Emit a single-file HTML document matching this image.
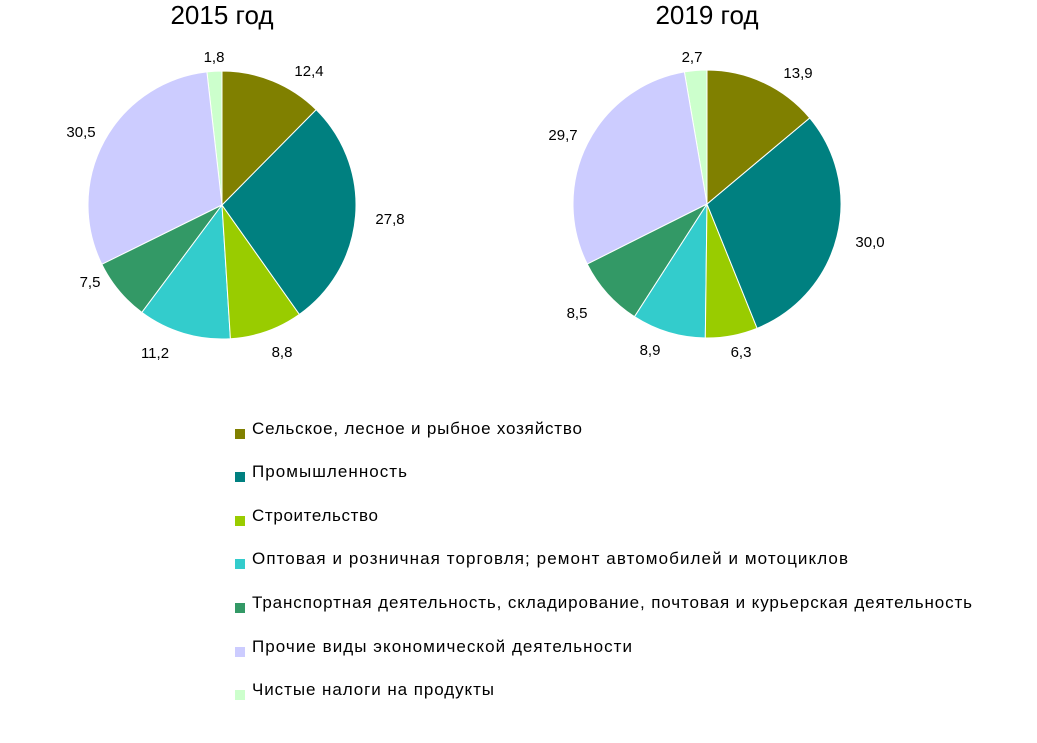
<!DOCTYPE html>
<html><head><meta charset="utf-8"><style>
html,body{margin:0;padding:0;background:#fff;}
svg{display:block;font-family:"Liberation Sans","DejaVu Sans",sans-serif;}
</style></head><body>
<svg id="s" width="1037" height="743" viewBox="0 0 1037 743" xmlns="http://www.w3.org/2000/svg">
<text x="222" y="24" font-size="26" text-anchor="middle">2015 год</text>
<text x="707" y="24" font-size="26" text-anchor="middle">2019 год</text>
<g font-size="15" fill="#000">
<text x="214" y="62" text-anchor="middle">1,8</text>
<text x="309" y="76" text-anchor="middle">12,4</text>
<text x="81" y="137" text-anchor="middle">30,5</text>
<text x="390" y="224" text-anchor="middle">27,8</text>
<text x="90" y="287" text-anchor="middle">7,5</text>
<text x="155" y="358" text-anchor="middle">11,2</text>
<text x="282" y="357" text-anchor="middle">8,8</text>
<text x="692" y="62" text-anchor="middle">2,7</text>
<text x="798" y="78" text-anchor="middle">13,9</text>
<text x="563" y="140" text-anchor="middle">29,7</text>
<text x="870" y="247" text-anchor="middle">30,0</text>
<text x="577" y="318" text-anchor="middle">8,5</text>
<text x="650" y="355" text-anchor="middle">8,9</text>
<text x="741" y="357" text-anchor="middle">6,3</text>
</g>
<g id="leg" font-size="17"></g>
</svg>
<script>
var cols=["#808000","#008080","#99CC00","#33CCCC","#339966","#CCCCFF","#CCFFCC"];
var names=["Сельское, лесное и рыбное хозяйство","Промышленность","Строительство","Оптовая и розничная торговля; ремонт автомобилей и мотоциклов","Транспортная деятельность, складирование, почтовая и курьерская деятельность","Прочие виды экономической деятельности","Чистые налоги на продукты"];
var ends=[582,407,378,848,972,632,494];
var s=document.getElementById("s"),ns="http://www.w3.org/2000/svg";
function pie(cx,cy,r,v){var a=0,t=v.reduce(function(x,y){return x+y},0);
v.forEach(function(d,i){var a2=a+d/t*2*Math.PI;
var x1=cx+r*Math.sin(a),y1=cy-r*Math.cos(a),x2=cx+r*Math.sin(a2),y2=cy-r*Math.cos(a2);
var p=document.createElementNS(ns,"path");
p.setAttribute("d","M"+cx+","+cy+"L"+x1+","+y1+"A"+r+","+r+" 0 "+(a2-a>Math.PI?1:0)+" 1 "+x2+","+y2+"Z");
p.setAttribute("fill",cols[i]);p.setAttribute("stroke","#fff");p.setAttribute("stroke-width","1");
s.insertBefore(p,s.firstChild);a=a2;});}
pie(222,205,134,[12.4,27.8,8.8,11.2,7.5,30.5,1.8]);
pie(707,204,134,[13.9,30.0,6.3,8.9,8.5,29.7,2.7]);
var g=document.getElementById("leg");
var ys=[429,472,516,559,603,647,690];
names.forEach(function(n,i){var r=document.createElementNS(ns,"rect");
r.setAttribute("x",235);r.setAttribute("y",ys[i]);r.setAttribute("width",10);r.setAttribute("height",10);r.setAttribute("fill",cols[i]);g.appendChild(r);
var t=document.createElementNS(ns,"text");t.setAttribute("x",252);t.setAttribute("y",ys[i]+5);
t.setAttribute("textLength",ends[i]-252);t.setAttribute("lengthAdjust","spacing");
t.textContent=n;g.appendChild(t);});
</script>
</body></html>
